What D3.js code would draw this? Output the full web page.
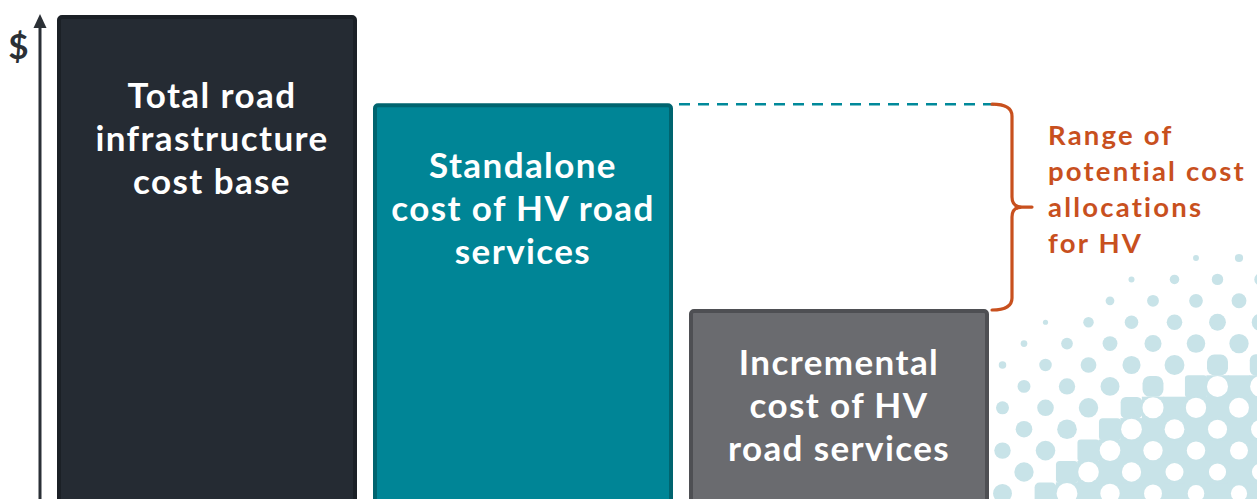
<!DOCTYPE html>
<html><head><meta charset="utf-8">
<script src="https://cdn.jsdelivr.net/npm/d3@7"></script>
<style>html,body{margin:0;padding:0;background:#fff;overflow:hidden}</style>
</head><body>
<svg id="chart" width="1257" height="499"></svg>
<script>
// ---- data ----
const categories = ["Total", "Standalone", "Incremental"];
const values = [100, 82, 40];
const barLabels = [
  ["Total road", "infrastructure", "cost base"],
  ["Standalone", "cost of HV road", "services"],
  ["Incremental", "cost of HV", "road services"]
];
const annotationLines = ["Range of", "potential cost", "allocations", "for HV"];
const axisLabel = "$";

// ---- styles / layout ----
const barFill = ["#252b33", "#008596", "#6a6b6f"];
const barStroke = ["#1b2026", "#00646f", "#4e4f53"];
const labelTop = [93, 75, 66];
const labelDx = [5, 0, 0];
const orange = "#c8501e";
const axisColor = "#2b3036";
const dotColor = "#c8e3e8";
const fontFam = "Lato, 'Open Sans', sans-serif";

const svg = d3.select("#chart");
const W = 1257, H = 499;

const x = d3.scaleBand().domain(categories).range([57, 989]).paddingInner(16/316).paddingOuter(0);
const y = d3.scaleLinear().domain([0, 100]).range([505, 15]);

// ---- halftone decoration (background ornament) ----
svg.append("defs").append("clipPath").attr("id", "pclip")
  .append("rect").attr("x", 988).attr("y", 0).attr("width", 300).attr("height", H);
const pat = svg.append("g").attr("clip-path", "url(#pclip)");
const sx = 21.5, sy = 21.4;
const tone = (px, py) => {
  const d = Math.hypot(px - 1218, py - 518);
  const radial = 265 - d;
  const lin = 0.37 * (px - 1067) + 0.8 * (py - 302) + 1;
  return 0.5 * radial + 0.5 * lin;
};
const cellsA = [], cellsB = [];
for (let j = -3; j <= 12; j++) {
  for (let i = -10; i <= 4; i++) {
    const cx = 1196 + i * sx, cy = 258 + j * sy;
    const t = tone(cx, cy);
    if (Math.abs((i + j) % 2) === 0) cellsA.push({cx, cy, t}); else cellsB.push({cx, cy, t});
  }
}
const T0 = 100, TH = 125;
cellsA.forEach(d => {
  if (d.t <= 0.6) return;
  const r = Math.sqrt(d.t);
  if (d.t < T0) {
    pat.append("circle").attr("cx", d.cx).attr("cy", d.cy).attr("r", r).attr("fill", dotColor);
  } else if (d.t < TH) {
    const h = Math.min(r, sx / 2 + 0.3);
    const rx = 10 - (d.t - T0) / (TH - T0) * 7;
    pat.append("rect").attr("x", d.cx - h).attr("y", d.cy - h).attr("width", 2 * h).attr("height", 2 * h)
      .attr("rx", rx).attr("fill", dotColor);
  } else {
    pat.append("rect").attr("x", d.cx - sx / 2 - 0.4).attr("y", d.cy - sy / 2 - 0.4)
      .attr("width", sx + 0.8).attr("height", sy + 0.8).attr("fill", dotColor);
  }
});
cellsB.forEach(d => {
  if (d.t < TH) return;
  pat.append("rect").attr("x", d.cx - sx / 2 - 0.4).attr("y", d.cy - sy / 2 - 0.4)
    .attr("width", sx + 0.8).attr("height", sy + 0.8).attr("fill", dotColor);
});
cellsB.forEach(d => {
  if (d.t < TH) return;
  const rw = Math.max(8, 10.6 - (d.t - TH) * 0.025);
  pat.append("circle").attr("cx", d.cx).attr("cy", d.cy).attr("r", rw).attr("fill", "#fff");
});

// ---- bars ----
const bars = svg.append("g");
bars.selectAll("rect").data(categories).join("rect")
  .attr("x", d => x(d) + 2)
  .attr("y", (d, i) => y(values[i]) + 2)
  .attr("width", x.bandwidth() - 4)
  .attr("height", (d, i) => y(0) - y(values[i]))
  .attr("rx", 3)
  .attr("fill", (d, i) => barFill[i])
  .attr("stroke", (d, i) => barStroke[i])
  .attr("stroke-width", 4);

// labels
categories.forEach((c, i) => {
  const cxl = x(c) + x.bandwidth() / 2 + labelDx[i];
  const t = svg.append("text")
    .attr("x", cxl)
    .attr("y", y(values[i]) + labelTop[i])
    .attr("text-anchor", "middle")
    .attr("fill", "#ffffff")
    .attr("font-family", fontFam)
    .attr("font-weight", 700)
    .attr("font-size", 35)
    .attr("letter-spacing", 1.4);
  barLabels[i].forEach((line, k) => {
    t.append("tspan").attr("x", cxl).attr("dy", k === 0 ? 0 : 43).text(line);
  });
});

// ---- axis ----
svg.append("line").attr("x1", 40).attr("x2", 40).attr("y1", H).attr("y2", 24)
  .attr("stroke", axisColor).attr("stroke-width", 3);
svg.append("path").attr("d", "M40,14 L33.5,28 L46.5,28 Z").attr("fill", axisColor);
svg.append("text").attr("x", 18.5).attr("y", 59).attr("text-anchor", "middle")
  .attr("fill", axisColor).attr("font-family", fontFam).attr("font-weight", 700)
  .attr("font-size", 35).text(axisLabel);

// ---- dashed reference line ----
const yTop = y(values[1]) + 1;
const yBot = y(values[2]) + 1;
svg.append("line")
  .attr("x1", x(categories[1]) + x.bandwidth() + 6).attr("x2", 994)
  .attr("y1", yTop).attr("y2", yTop)
  .attr("stroke", "#00899a").attr("stroke-width", 2.5).attr("stroke-dasharray", "11,8");

// ---- brace ----
const bx = 1012, ym = (yTop + yBot) / 2;
svg.append("path")
  .attr("d", `M992,${yTop} Q${bx},${yTop} ${bx},${yTop + 12} L${bx},${ym - 10} Q${bx},${ym} ${bx + 10},${ym} L${bx + 20},${ym}
              M${bx + 10},${ym} Q${bx},${ym} ${bx},${ym + 10} L${bx},${yBot - 12} Q${bx},${yBot} 992,${yBot}`)
  .attr("fill", "none").attr("stroke", orange).attr("stroke-width", 3.2).attr("stroke-linecap", "round");

// ---- annotation ----
const ann = svg.append("text").attr("x", 1048).attr("y", 145)
  .attr("fill", orange).attr("font-family", fontFam).attr("font-weight", 700)
  .attr("font-size", 27.5).attr("letter-spacing", 2.2);
annotationLines.forEach((line, k) => {
  ann.append("tspan").attr("x", 1048).attr("dy", k === 0 ? 0 : 36).text(line);
});
</script>
</body></html>
